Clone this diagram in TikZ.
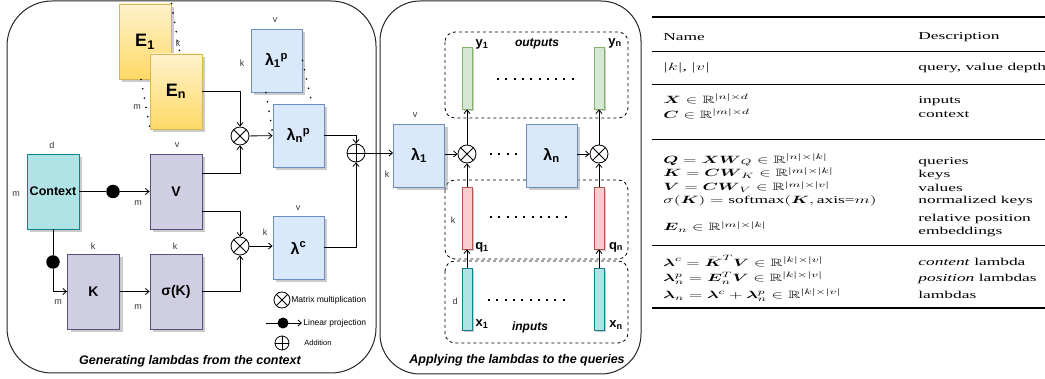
\documentclass[tikz,border=0pt]{standalone}
\usepackage{amsmath,amssymb}
\usepackage{graphicx}
\usepackage{fontspec}
\setmainfont{Liberation Serif}
\newfontfamily\arial{Liberation Sans}
\usetikzlibrary{arrows.meta,shadows}

\definecolor{etop}{HTML}{FFF2CC}
\definecolor{ebot}{HTML}{FFD966}
\definecolor{eline}{HTML}{D6B656}
\definecolor{vfill}{HTML}{D0CEE2}
\definecolor{vline}{HTML}{56517E}
\definecolor{cfill}{HTML}{B0E3E6}
\definecolor{cline}{HTML}{0E8088}
\definecolor{lfill}{HTML}{DAE8FC}
\definecolor{lline}{HTML}{6C8EBF}
\definecolor{yfill}{HTML}{D5E8D4}
\definecolor{yline}{HTML}{82B366}
\definecolor{qfill}{HTML}{F8CECC}
\definecolor{qline}{HTML}{B85450}

\newcommand{\tstretch}[1]{\scalebox{1.58}[0.96]{#1}}

\tikzset{
  panel/.style={draw=black!85, line width=1pt},
  blk/.style={draw, line width=0.9pt, inner sep=0pt, minimum width=52pt, minimum height=75pt,
    font=\arial\bfseries\fontsize{14}{14}\selectfont,
    drop shadow={shadow xshift=3pt, shadow yshift=-3pt, fill=black!40, opacity=0.5}},
  ebox/.style={blk, draw=eline, top color=etop, bottom color=ebot,
    font=\arial\bfseries\fontsize{18}{18}\selectfont},
  vbox/.style={blk, draw=vline, fill=vfill},
  ctxbox/.style={blk, draw=cline, fill=cfill, font=\arial\bfseries\fontsize{12.5}{12.5}\selectfont},
  lbox/.style={blk, draw=lline, fill=lfill, minimum width=51pt, minimum height=63pt,
    font=\arial\bfseries\fontsize{16}{16}\selectfont},
  bar/.style={draw, line width=0.9pt, inner sep=0pt, minimum width=10pt, minimum height=62pt,
    drop shadow={shadow xshift=2pt, shadow yshift=-2pt, fill=black!40, opacity=0.5}},
  ybar/.style={bar, draw=yline, fill=yfill},
  qbar/.style={bar, draw=qline, fill=qfill},
  xbar/.style={bar, draw=cline, fill=cfill},
  mult/.style={circle, draw, fill=white, line width=0.8pt, minimum size=18pt, inner sep=0pt,
    path picture={\draw[line width=0.8pt] (path picture bounding box.north west) -- (path picture bounding box.south east)
      (path picture bounding box.north east) -- (path picture bounding box.south west);}},
  addop/.style={circle, draw, fill=white, line width=0.8pt, minimum size=18pt, inner sep=0pt,
    path picture={\draw[line width=0.8pt] (path picture bounding box.north) -- (path picture bounding box.south)
      (path picture bounding box.west) -- (path picture bounding box.east);}},
  proj/.style={circle, fill=black, minimum size=13.5pt, inner sep=0pt},
  dim/.style={font=\arial\fontsize{9}{9}\selectfont, text=black!80, inner sep=0pt},
  barlbl/.style={font=\arial\bfseries\fontsize{13}{13}\selectfont, inner sep=0pt},
  group/.style={draw, dashed, rounded corners=10pt, line width=0.8pt},
  caption/.style={font=\arial\bfseries\itshape\fontsize{12.5}{12.5}\selectfont, inner sep=0pt},
  grouptitle/.style={font=\arial\bfseries\itshape\fontsize{12}{12}\selectfont, inner sep=0pt},
  stackdots/.style={line width=1.8pt, line cap=round, dash pattern=on 0pt off 9.5pt},
  rowdots/.style={line width=2pt, dash pattern=on 2pt off 6.3pt},
  legtext/.style={font=\arial\fontsize{8.5}{8.5}\selectfont, anchor=west, inner sep=0pt},
  tab/.style={anchor=west, inner sep=0pt, font=\fontsize{11}{13}\selectfont},
  thickrule/.style={line width=1.3pt},
  thinrule/.style={line width=0.7pt}
}

\begin{document}
\begin{tikzpicture}[x=1pt, y=-1pt, line width=0.8pt, >={Straight Barb[length=3.5pt,width=6pt]}]
    \useasboundingbox (0,0) rectangle (1045,379);
    \fill[white] (0,0) rectangle (1045,379);

    % Panels
    \draw[panel, rounded corners=45pt] (7,1) rectangle (376,373);
    \draw[panel, rounded corners=40pt] (380,1) rectangle (641,374);
    \node[caption] (capL) at (190,361) {Generating lambdas from the context};
    \node[caption] (capR) at (517,360) {Applying the lambdas to the queries};

    % Position embeddings
    \node[ebox] (E1) at (145,41.5) {E\textsubscript{1}};
    \draw[stackdots] (E1.north east) -- ([xshift=4pt]176,54);
    \draw[stackdots] ([xshift=-4pt]E1.south) -- (150,129);
    \node[ebox] (En) at (176,91.5) {E\textsubscript{n}};
    \node[dim] (dimEk) at (178,43) {k};
    \node[dim] (dimEm) at (137,107) {m};

    % Context, values, keys
    \node[ctxbox] (ctx) at (53,191.5) {Context};
    \node[vbox] (V) at (176,191.5) {V};
    \node[vbox] (K) at (93.5,291.5) {K};
    \node[vbox] (sK) at (176,291.5) {σ(K)};
    \node[dim] (dimCd) at (52,145) {d};
    \node[dim] (dimCm) at (16,194) {m};
    \node[dim] (dimVv) at (177,145) {v};
    \node[dim] (dimVm) at (138,203) {m};
    \node[dim] (dimKk) at (93,246) {k};
    \node[dim] (dimKm) at (58,302) {m};
    \node[dim] (dimSk) at (175,246) {k};
    \node[dim] (dimSm) at (138,307) {m};

    % Linear projections
    \node[proj] (prV) at (113,191.5) {};
    \node[proj] (prK) at (53,262) {};
    \draw[->] (ctx) -- (prV) -- (V);
    \draw[->] (ctx) -- (prK) |- (K);
    \draw[->] (K) -- (sK);

    % Position lambdas
    \node[lbox] (lp1) at (276.5,60.5) {λ\textsubscript{1}\textsuperscript{p}};
    \draw[stackdots] (lp1.east) -- (312,104);
    \draw[stackdots] ([xshift=-10.5pt]lp1.south) -- (273,135.5);
    \node[lbox] (lpn) at (298.5,135.5) {λ\textsubscript{n}\textsuperscript{p}};
    \node[dim] (dimPv) at (275,20) {v};
    \node[dim] (dimPk) at (242,63) {k};

    % Content lambda
    \node[lbox] (lc) at (298.5,248) {λ\textsuperscript{c}};
    \node[dim] (dimCv) at (298,208) {v};
    \node[dim] (dimCk) at (265,232) {k};

    % Products and sum
    \node[mult] (mulP) at (240,136) {};
    \node[mult] (mulC) at (240,246) {};
    \node[addop] (sum) at (356,153) {};
    \draw[->] (En) -| (mulP);
    \draw[->] ([yshift=18.5pt]V.east) -| (mulP);
    \draw[->] (mulP) -- (lpn);
    \draw[->] ([yshift=-19.5pt]V.east) -| (mulC);
    \draw[->] (sK) -| (mulC);
    \draw[->] (mulC) -- (mulC -| lc.west);
    \draw[->] (lpn) -| (sum);
    \draw[->] ([yshift=1pt]lc.east) -| (sum);

    % Legend
    \node[mult, minimum size=16pt] (lgMul) at (282,300) {};
    \node[legtext] (lgMulT) at (291,300) {Matrix multiplication};
    \coordinate (lgA) at (266,323);
    \coordinate (lgB) at (302,323);
    \draw[->] (lgA) -- (lgB);
    \node[proj, minimum size=11pt] (lgDot) at (283,323) {};
    \node[legtext] (lgDotT) at (303,323) {Linear projection};
    \node[addop, minimum size=14pt] (lgAdd) at (282,343) {};
    \node[legtext, font=\arial\fontsize{7.5}{7.5}\selectfont] (lgAddT) at (304,343) {Addition};

    % Groups of vectors
    \draw[group] (445,32) rectangle (628,118);
    \draw[group] (445,180) rectangle (628,259);
    \draw[group] (445,261) rectangle (628,343);
    \node[grouptitle] (tOut) at (537,44) {outputs};
    \node[grouptitle] (tIn) at (530,327) {inputs};

    % Lambdas applied to queries
    \node[lbox] (l1) at (419,155.5) {λ\textsubscript{1}};
    \node[lbox] (ln) at (551.5,155.5) {λ\textsubscript{n}};
    \node[dim] (dimLv) at (415,115) {v};
    \node[dim] (dimLk) at (387,174) {k};
    \draw[->] (sum) -- (sum -| l1.west);
    \node[mult] (mul1) at (467,154) {};
    \node[mult] (muln) at (599,154) {};
    \draw[->] (l1.east |- mul1) -- (mul1);
    \draw[->] (ln.east |- muln) -- (muln);
    \draw[rowdots] (490,154) -- (518,154);

    % Vectors
    \node[ybar] (y1) at (467,78) {};
    \node[ybar] (yn) at (599,78) {};
    \node[qbar] (q1) at (467,218) {};
    \node[qbar] (qn) at (599,218) {};
    \node[xbar] (x1) at (467,299) {};
    \node[xbar] (xn) at (599,299) {};
    \node[barlbl] (ty1) at (482,44) {y\textsubscript{1}};
    \node[barlbl] (tyn) at (615,43) {y\textsubscript{n}};
    \node[barlbl] (tq1) at (482,247) {q\textsubscript{1}};
    \node[barlbl] (tqn) at (616,247) {q\textsubscript{n}};
    \node[barlbl] (tx1) at (482,324) {x\textsubscript{1}};
    \node[barlbl] (txn) at (616,325) {x\textsubscript{n}};
    \node[dim] (dimQk) at (453,220) {k};
    \node[dim] (dimXd) at (455,301) {d};
    \draw[rowdots] (497,79) -- (576,79);
    \draw[rowdots] (490,217) -- (569,217);
    \draw[rowdots] (488,300) -- (567,300);
    \draw[->] (mul1) -- (y1);
    \draw[->] (muln) -- (yn);
    \draw[->] (q1) -- (mul1);
    \draw[->] (qn) -- (muln);
    \draw[->] (x1) -- (q1);
    \draw[->] (xn) -- (qn);

    % Table of symbols
    \draw[thickrule] (652,17) -- (1045,17);
    \node[tab] (hName) at (663,37) {\tstretch{Name}};
    \node[tab] (hDesc) at (918,37) {\tstretch{Description}};
    \draw[thinrule] (652,51) -- (1045,51);
    \node[tab] (nDepth) at (663,68) {\tstretch{$|k|$, $|v|$}};
    \node[tab] (dDepth) at (918,68) {\tstretch{query, value depth}};
    \draw[thinrule] (652,84) -- (1045,84);
    \node[tab] (nX) at (663,99) {\tstretch{$\boldsymbol{X}\in\mathbb{R}^{|n|\times d}$}};
    \node[tab] (dX) at (918,101) {\tstretch{inputs}};
    \node[tab] (nC) at (663,114) {\tstretch{$\boldsymbol{C}\in\mathbb{R}^{|m|\times d}$}};
    \node[tab] (dC) at (918,115) {\tstretch{context}};
    \draw[thinrule] (652,139) -- (1045,139);
    \node[tab] (nQ) at (663,160) {\tstretch{$\boldsymbol{Q}=\boldsymbol{X}\boldsymbol{W}_Q\in\mathbb{R}^{|n|\times|k|}$}};
    \node[tab] (dQ) at (918,162) {\tstretch{queries}};
    \node[tab] (nK) at (663,173) {\tstretch{$\boldsymbol{K}=\boldsymbol{C}\boldsymbol{W}_K\in\mathbb{R}^{|m|\times|k|}$}};
    \node[tab] (dK) at (918,175) {\tstretch{keys}};
    \node[tab] (nV) at (663,187) {\tstretch{$\boldsymbol{V}=\boldsymbol{C}\boldsymbol{W}_V\in\mathbb{R}^{|m|\times|v|}$}};
    \node[tab] (dV) at (918,188) {\tstretch{values}};
    \node[tab] (nS) at (663,201) {\tstretch{$\sigma(\boldsymbol{K})=\text{softmax}(\boldsymbol{K},\text{axis=}m)$}};
    \node[tab] (dS) at (918,201) {\tstretch{normalized keys}};
    \node[tab] (dE1) at (918,219) {\tstretch{relative position}};
    \node[tab] (nE) at (663,227) {\tstretch{$\boldsymbol{E}_n\in\mathbb{R}^{|m|\times|k|}$}};
    \node[tab] (dE2) at (918,232) {\tstretch{embeddings}};
    \draw[thinrule] (652,245) -- (1045,245);
    \node[tab] (nLc) at (663,261) {\tstretch{$\boldsymbol{\lambda}^c=\bar{\boldsymbol{K}}^T\boldsymbol{V}\in\mathbb{R}^{|k|\times|v|}$}};
    \node[tab] (dLc) at (918,262) {\tstretch{\textit{content} lambda}};
    \node[tab] (nLp) at (663,278) {\tstretch{$\boldsymbol{\lambda}^p_n=\boldsymbol{E}^T_n\boldsymbol{V}\in\mathbb{R}^{|k|\times|v|}$}};
    \node[tab] (dLp) at (918,279) {\tstretch{\textit{position} lambdas}};
    \node[tab] (nL) at (663,295) {\tstretch{$\boldsymbol{\lambda}_n=\boldsymbol{\lambda}^c+\boldsymbol{\lambda}^p_n\in\mathbb{R}^{|k|\times|v|}$}};
    \node[tab] (dL) at (918,295) {\tstretch{lambdas}};
    \draw[thickrule] (652,308) -- (1045,308);
\end{tikzpicture}
\end{document}
